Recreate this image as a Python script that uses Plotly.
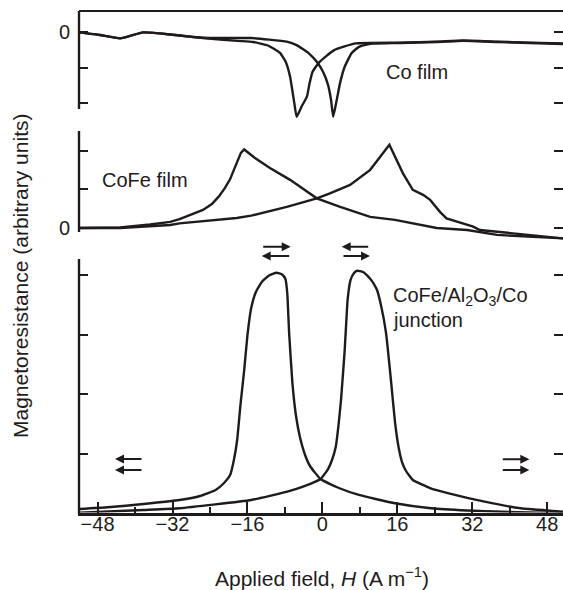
import plotly.graph_objects as go

# ---------------- data ----------------
# Applied field H (A m^-1) tick marks
H_TICKS = [-48, -32, -16, 0, 16, 32, 48]
H_TICK_LABELS = ["\u221248", "\u221232", "\u221216", "0", "16", "32", "48"]
H_MINOR = [-40, -24, -8, 8, 24, 40]

# Co film: sweep with the dip at negative field
co_a_h = [-51.9, -47.5, -43.2, -38.3, -34.7, -30.4, -25.5, -18.2, -14.8, -11.6, -9.05, -7.8,
          -6.9, -6.0, -5.5, -4.45, -3.3, -2.75, -2.1, -0.6, 2.5, 7.1, 16.6, 24.5, 30.0,
          37.3, 44.3, 51.4]
co_a_mr = [-0.01, -0.085, -0.18, -0.01, -0.04, -0.10, -0.17, -0.25, -0.28, -0.38, -0.59,
           -0.85, -1.26, -2.0, -2.39, -2.10, -1.82, -1.45, -1.12, -0.84, -0.51, -0.32,
           -0.30, -0.27, -0.24, -0.27, -0.30, -0.32]
# Co film: sweep with the dip at positive field
co_b_h = [-51.9, -47.5, -43.2, -38.3, -34.7, -30.4, -25.5, -18.2, -15.2, -7.6, -5.5, -2.9,
          -1.2, 0.13, 1.2, 1.85, 2.3, 3.05, 3.76, 4.76, 6.25, 7.8, 10.2, 16.6, 24.5, 30.0,
          37.3, 44.3, 51.4]
co_b_mr = [-0.01, -0.085, -0.18, -0.01, -0.04, -0.10, -0.16, -0.17, -0.17, -0.27, -0.37,
           -0.60, -0.84, -1.12, -1.49, -1.92, -2.39, -1.92, -1.44, -0.98, -0.59, -0.42,
           -0.33, -0.31, -0.28, -0.25, -0.28, -0.31, -0.34]

# CoFe film: sweep with the peak at negative field
cofe_a_h = [-51.9, -43.2, -36.8, -32.5, -30.5, -25.5, -23.6, -22.1, -20.8, -19.7, -18.9,
            -18.0, -17.4, -16.7, -14.4, -11.2, -6.9, -1.2, 3.8, 10.2, 15.5, 24.4, 30.9,
            37.3, 51.4]
cofe_a_mr = [0.0, 0.013, 0.09, 0.16, 0.23, 0.47, 0.62, 0.82, 1.04, 1.27, 1.51, 1.77, 1.95,
             2.04, 1.82, 1.56, 1.25, 0.77, 0.55, 0.29, 0.21, 0.0, -0.052, -0.18, -0.27]
# CoFe film: sweep with the peak at positive field
cofe_b_h = [-51.9, -43.2, -32.5, -30.5, -18.3, -15.2, -7.6, -4.8, -1.2, 1.6, 5.9, 10.2,
            12.9, 14.3, 17.2, 19.3, 21.5, 23.0, 25.1, 26.5, 32.2, 33.6, 40.7, 51.4]
cofe_b_mr = [0.0, 0.0, 0.078, 0.12, 0.26, 0.32, 0.55, 0.65, 0.77, 0.90, 1.12, 1.51, 1.94,
             2.16, 1.42, 0.99, 0.86, 0.73, 0.42, 0.25, 0.034, -0.052, -0.14, -0.27]

# CoFe/Al2O3/Co junction: sweep with the peak at negative field
tj_a_h = [-51.9, -45.8, -38.2, -30.5, -26.1, -22.8, -21.0, -19.7, -18.9, -18.2, -17.5,
          -16.7, -16.0, -15.2, -14.2, -12.9, -11.4, -9.8, -8.6, -7.9, -7.5, -7.1, -6.4,
          -5.6, -4.8, -3.7, -2.65, -0.4, 3.8, 7.8, 15.5, 23.2, 30.9, 38.5, 51.4]
tj_a_mr = [0.067, 0.096, 0.151, 0.218, 0.286, 0.387, 0.504, 0.639, 0.891, 1.227, 1.815,
           2.403, 2.992, 3.445, 3.714, 3.887, 3.992, 4.039, 4.008, 3.933, 3.692, 3.020,
           2.180, 1.613, 1.277, 0.975, 0.790, 0.571, 0.412, 0.303, 0.163, 0.079, 0.042,
           0.022, -0.005]
# CoFe/Al2O3/Co junction: sweep with the peak at positive field
tj_b_h = [-51.9, -38.2, -30.5, -15.2, -7.5, -3.7, -0.4, 1.2, 2.05, 2.84, 3.44, 3.97, 4.76,
          5.38, 6.0, 6.75, 7.45, 8.67, 10.1, 11.0, 11.66, 12.5, 13.6, 14.7, 15.5, 16.3,
          17.0, 17.85, 19.3, 22.97, 27.0, 34.65, 42.3, 51.4]
tj_b_mr = [0.005, 0.05, 0.079, 0.218, 0.358, 0.454, 0.571, 0.739, 0.891, 1.109, 1.479,
           1.899, 2.739, 3.580, 3.916, 4.034, 4.072, 4.050, 3.945, 3.849, 3.748, 3.496,
           3.020, 2.180, 1.529, 1.092, 0.857, 0.706, 0.555, 0.420, 0.331, 0.190, 0.079,
           0.022]

# ---------------- layout helpers ----------------
W, HGT = 563, 590
ML = 79
PW = W - ML
FONT = "Liberation Sans, Arial, Helvetica, sans-serif"
INK = "#1f1b1c"


def fx(px):
    return (px - ML) / PW


def fy(py):
    return 1 - py / HGT


fig = go.Figure()
line_spline = dict(color=INK, width=2.4, shape="spline", smoothing=0.4)
line_lin = dict(color=INK, width=2.4)

fig.add_trace(go.Scatter(x=co_a_h, y=co_a_mr, mode="lines", line=line_spline, xaxis="x", yaxis="y"))
fig.add_trace(go.Scatter(x=co_b_h, y=co_b_mr, mode="lines", line=line_spline, xaxis="x", yaxis="y"))
fig.add_trace(go.Scatter(x=cofe_a_h, y=cofe_a_mr, mode="lines", line=line_lin, xaxis="x", yaxis="y2"))
fig.add_trace(go.Scatter(x=cofe_b_h, y=cofe_b_mr, mode="lines", line=line_lin, xaxis="x", yaxis="y2"))
fig.add_trace(go.Scatter(x=tj_a_h, y=tj_a_mr, mode="lines", line=line_spline, xaxis="x", yaxis="y3"))
fig.add_trace(go.Scatter(x=tj_b_h, y=tj_b_mr, mode="lines", line=line_spline, xaxis="x", yaxis="y3"))

yax_common = dict(anchor="x", showline=True, linecolor="rgba(0,0,0,0)", mirror="ticks",
                  ticks="inside", ticklen=9, tickwidth=2, tickcolor=INK, showgrid=False,
                  zeroline=False, tickfont=dict(family=FONT, size=20, color=INK),
                  ticklabelstandoff=4)

fig.update_layout(
    width=W, height=HGT,
    margin=dict(l=ML, r=0, t=0, b=0),
    paper_bgcolor="white", plot_bgcolor="white",
    showlegend=False,
    xaxis=dict(anchor="y3", domain=[0, 1], range=[-51.97, 51.37], showline=True,
               linewidth=3, linecolor=INK, ticks="inside", ticklen=11, tickwidth=2,
               tickcolor=INK, tickvals=H_TICKS, ticktext=H_TICK_LABELS,
               minor=dict(tickvals=H_MINOR, ticks="inside", ticklen=6, tickwidth=2,
                          tickcolor=INK),
               showgrid=False, zeroline=False, ticklabelstandoff=-9,
               tickfont=dict(family=FONT, size=20, color=INK)),
    yaxis=dict(domain=[fy(122), fy(8)], range=[-2.535, 0.676], tickvals=[0, -1, -2],
               ticktext=["0", "", ""], **yax_common),
    yaxis2=dict(domain=[fy(242), fy(128)], range=[-0.364, 2.597], tickvals=[0, 1, 2],
                ticktext=["0", "", ""], **yax_common),
    yaxis3=dict(domain=[fy(512.5), fy(252)], range=[0.0084, 4.387],
                tickvals=[0, 1, 2, 3, 4], ticktext=["0", "", "", "", ""], **yax_common),
)

# frame lines (left axis segments and top edge)
frame = [(11, 109), (131, 232), (259, 514)]
for top, bot in frame:
    fig.add_shape(type="line", xref="paper", yref="paper", x0=0, x1=0, y0=fy(bot), y1=fy(top),
                  line=dict(color=INK, width=2.4))
fig.add_shape(type="line", xref="paper", yref="paper", x0=0, x1=1, y0=fy(11), y1=fy(11),
              line=dict(color=INK, width=2.2))

# text labels
labels = [
    ("Co film", 384, 72),
    ("CoFe film", 100, 180),
    ("CoFe/Al<sub>2</sub>O<sub>3</sub>/Co", 391, 297),
    ("junction", 391, 320),
]
for txt, px, py in labels:
    fig.add_annotation(text=txt, xref="paper", yref="paper", x=fx(px), y=fy(py),
                       xanchor="left", yanchor="middle", showarrow=False,
                       font=dict(family=FONT, size=20, color=INK))

fig.add_annotation(text="Magnetoresistance (arbitrary units)", textangle=-90,
                   xref="paper", yref="paper", x=fx(20), y=fy(276), xanchor="center",
                   yanchor="middle", showarrow=False, font=dict(family=FONT, size=21, color=INK))
fig.add_annotation(text="Applied field, <i>H</i> (A m<sup>\u22121</sup>)",
                   xref="paper", yref="paper", x=fx(322), y=fy(577), xanchor="center",
                   yanchor="middle", showarrow=False, font=dict(family=FONT, size=21, color=INK))

# magnetisation-direction arrows: (head x px, head y px, tail offset px)
arrows = [
    (290.7, 246.7, -29), (261.7, 256, 29),
    (341.7, 246.7, 28), (370, 256, -28),
    (115, 459, 28), (115, 470, 28),
    (529.3, 459.3, -28), (529.3, 470, -28),
]
for hx, hy, dx in arrows:
    fig.add_annotation(text="", xref="paper", yref="paper", x=fx(hx), y=fy(hy),
                       ax=dx, ay=0, axref="pixel", ayref="pixel", showarrow=True,
                       arrowhead=2, arrowsize=0.9, arrowwidth=2, arrowcolor=INK)

fig.write_html("out.html", config={"displayModeBar": False},
               post_script="document.body.style.margin='0';document.body.style.overflow='hidden';")
